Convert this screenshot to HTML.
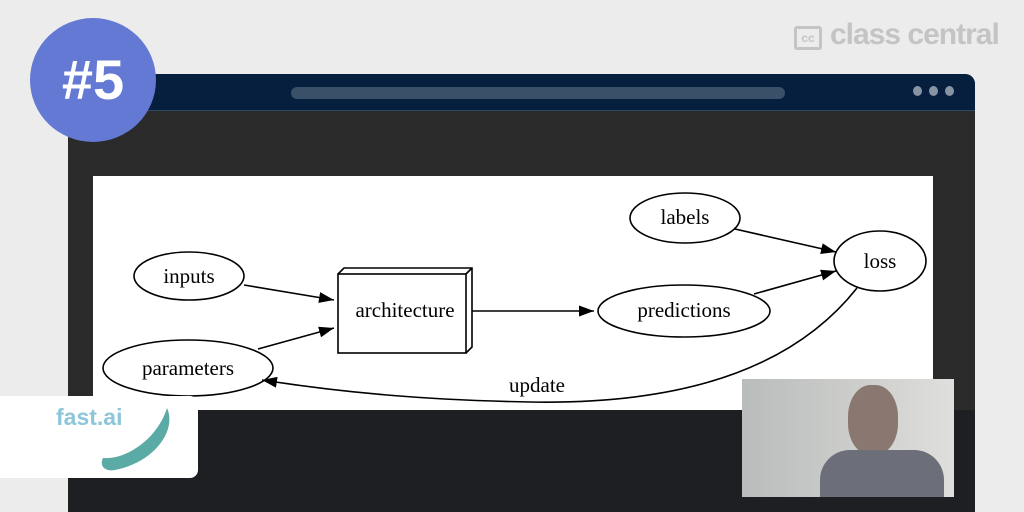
<!DOCTYPE html>
<html><head><style>
body{margin:0;width:1024px;height:512px;overflow:hidden;background:#ececec;font-family:"Liberation Sans",sans-serif;position:relative}
.abs{position:absolute}
</style></head><body>
<div class="abs" style="left:68px;top:74px;width:907px;height:438px;background:#2a2a2b;border-radius:10px 10px 0 0"></div>
<div class="abs" style="left:68px;top:74px;width:907px;height:36px;background:#061f3e;border-radius:10px 10px 0 0;border-bottom:1px solid #2b4a66"></div>
<div class="abs" style="left:291px;top:87px;width:494px;height:12px;background:#3a5069;border-radius:6px"></div>
<div class="abs" style="left:913px;top:86px;width:9px;height:10px;border-radius:50%;background:#8893a3"></div>
<div class="abs" style="left:929px;top:86px;width:9px;height:10px;border-radius:50%;background:#8893a3"></div>
<div class="abs" style="left:945px;top:86px;width:9px;height:10px;border-radius:50%;background:#8893a3"></div>
<div class="abs" style="left:68px;top:410px;width:907px;height:102px;background:#1e1f22"></div>
<div class="abs" style="left:794px;top:26px;width:28px;height:24px;border:3px solid #c4c4c4;border-radius:3px;box-sizing:border-box;color:#c4c4c4;font-size:12px;font-weight:bold;text-align:center;line-height:18px">cc</div>
<div class="abs" style="left:830px;top:18px;font-size:30px;color:#c4c4c4;font-weight:bold;letter-spacing:-1px">class central</div>
<div class="abs" style="left:30px;top:18px;width:126px;height:124px;border-radius:50%;background:#6479d3;color:#fff;font-size:56px;font-weight:bold;text-align:center;line-height:124px">#5</div>
<svg class="abs" style="left:93px;top:176px" width="840" height="234" viewBox="93 176 840 234">
<defs><marker id="a" markerWidth="15" markerHeight="11" refX="15" refY="5.5" orient="auto" markerUnits="userSpaceOnUse" viewBox="0 0 15 11"><path d="M0,0L15,5.5L0,11z" fill="#000"/></marker></defs>
<rect x="93" y="176" width="840" height="234" fill="#fff"/>
<g fill="none" stroke="#000" stroke-width="1.6">
<ellipse cx="189" cy="276" rx="55" ry="24"/>
<ellipse cx="188" cy="368" rx="85" ry="28"/>
<ellipse cx="684" cy="311" rx="86" ry="26"/>
<ellipse cx="685" cy="218" rx="55" ry="25"/>
<ellipse cx="880" cy="261" rx="46" ry="30"/>
<rect x="338" y="274" width="128" height="79"/>
<path d="M338,274L344,268H472V347L466,353M466,274L472,268"/>
<line x1="244" y1="285" x2="334" y2="300" marker-end="url(#a)"/>
<line x1="258" y1="349" x2="334" y2="328" marker-end="url(#a)"/>
<line x1="472" y1="311" x2="594" y2="311" marker-end="url(#a)"/>
<line x1="735" y1="229" x2="836" y2="252" marker-end="url(#a)"/>
<line x1="754" y1="294" x2="836" y2="271" marker-end="url(#a)"/>
<path d="M857,288C800,360 700,405 530,402C420,400 340,392 262,380" marker-end="url(#a)"/>
</g>
<g font-family="Liberation Serif,serif" font-size="21" text-anchor="middle" fill="#000">
<text x="189" y="283">inputs</text><text x="188" y="375">parameters</text>
<text x="405" y="317">architecture</text><text x="684" y="317">predictions</text>
<text x="685" y="224">labels</text><text x="880" y="268">loss</text><text x="537" y="392">update</text>
</g>
</svg>
<div class="abs" style="left:742px;top:379px;width:212px;height:118px;background:linear-gradient(90deg,#b9bcbc,#cfd0cd 60%,#dfe0dd)"></div>
<div class="abs" style="left:848px;top:385px;width:50px;height:70px;border-radius:45%;background:#8a7870"></div>
<div class="abs" style="left:820px;top:450px;width:124px;height:47px;background:#6c6e7a;border-radius:30px 30px 0 0"></div>
<div class="abs" style="left:0;top:396px;width:198px;height:82px;background:#fff;border-radius:0 8px 8px 0"></div>
<div class="abs" style="left:56px;top:404px;font-size:23px;font-weight:bold;color:#8ec6d9">fast.ai</div>
<svg class="abs" style="left:95px;top:400px" width="80" height="75"><path d="M72,8C82,30 60,62 20,70C10,72 4,66 8,58C30,60 62,40 72,8z" fill="#5aaba5"/></svg>
</body></html>
